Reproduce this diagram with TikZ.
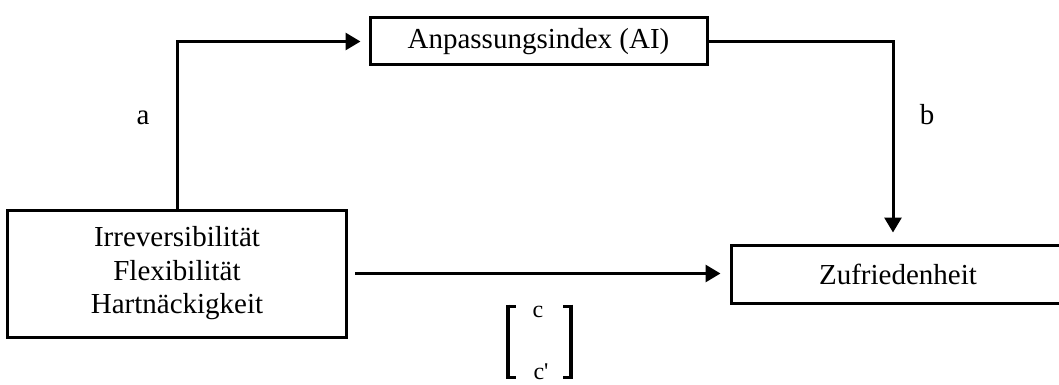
\documentclass[tikz,border=0pt]{standalone}
\usepackage{fontspec}
\setmainfont{Liberation Serif}
\usetikzlibrary{arrows.meta}
\begin{document}
\begin{tikzpicture}[x=1pt,y=-1pt,
  box/.style={draw,line width=3pt,inner sep=0pt,align=center,
    font=\fontsize{29}{33.5}\selectfont},
  link/.style={line width=3pt,-{Triangle[length=15pt,width=17pt]}},
  lbl/.style={inner sep=0pt,font=\fontsize{29}{33}\selectfont},
  small/.style={inner sep=0pt,font=\fontsize{24}{26}\selectfont},
  brk/.style={line width=4.5pt},
  tick/.style={line width=3pt}]
\useasboundingbox (0,0) rectangle (1059,385);

% variables
\node[box,minimum width=339pt,minimum height=127pt] (iv) at (177,273.5)
  {Irreversibilität\\Flexibilität\\Hartnäckigkeit};
\node[box,minimum width=337pt,minimum height=47pt] (ai) at (538.5,41.5)
  {Anpassungsindex (AI)};
\node[box,minimum width=334pt,minimum height=58pt] (zu) at (898,274)
  {Zufriedenheit};

% paths
\draw[link,shorten >=8pt] (iv.north) |- (ai.west);
\draw[link,shorten >=11pt] (ai.east) -| ([xshift=-5pt]zu.north);
\draw[link,shorten <=7pt,shorten >=9pt] (iv.east) -- (iv.east -| zu.west);

% path labels
\node[lbl] (la) at (143,117.5) {a};
\node[lbl] (lb) at (927,115) {b};

% total and direct effect
\node[small] (c) at (538,312) {c};
\node[small] (cp) at (541,372) {c\textquotesingle};
\draw[brk] (508,304.5) -- (508,378.5);
\draw[tick] (506,306) -- (516,306);
\draw[tick] (506,377) -- (516,377);
\draw[brk] (571,304.5) -- (571,378.5);
\draw[tick] (563,306) -- (573,306);
\draw[tick] (563,377) -- (573,377);
\end{tikzpicture}
\end{document}
